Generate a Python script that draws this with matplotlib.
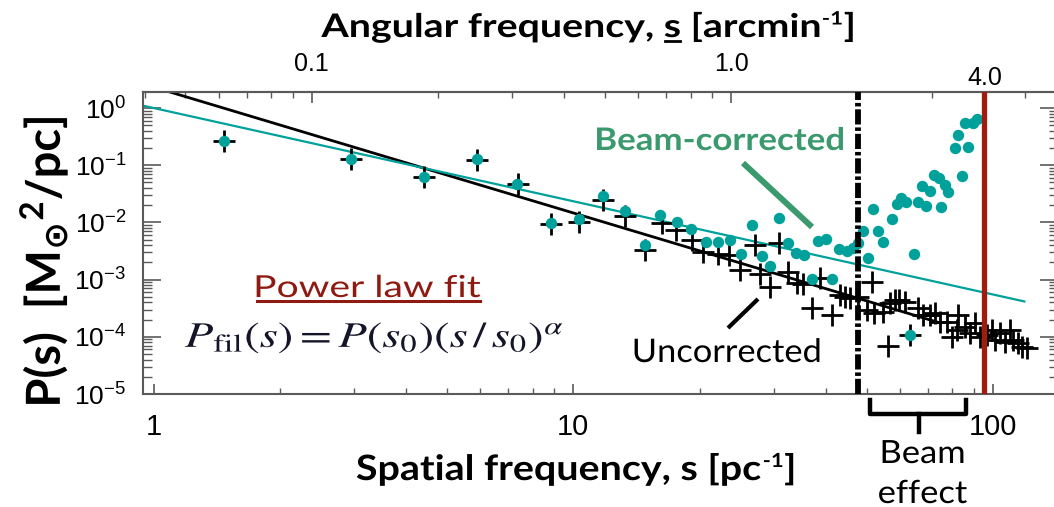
import numpy as np
import matplotlib
matplotlib.use("Agg")
import matplotlib.pyplot as plt
from matplotlib.lines import Line2D
from matplotlib.patches import PathPatch
from matplotlib.textpath import TextPath
from matplotlib.font_manager import FontProperties
from matplotlib.transforms import IdentityTransform, Affine2D
from matplotlib.ticker import (LogLocator, NullFormatter, FixedLocator,
                               FixedFormatter)

plt.rcParams['font.family'] = ['Liberation Sans', 'DejaVu Sans']
plt.rcParams['mathtext.fontset'] = 'custom'
plt.rcParams['mathtext.rm'] = 'Lato'
plt.rcParams['mathtext.bf'] = 'Lato:bold'
plt.rcParams['mathtext.it'] = 'Lato:italic'
plt.rcParams['mathtext.sf'] = 'DejaVu Sans:bold'

# ---------------------------------------------------------------- data
# uncorrected power spectrum (black crosses)
s_uncorr = [1.47, 2.95, 4.41, 5.90, 7.37, 8.84, 10.33, 11.79, 13.27, 14.81,
            16.23, 17.56, 19.14, 20.4, 22.14, 23.52, 24.95, 27.1, 27.85, 29.5,
            30.96, 32.5, 34.06, 35.3, 36.98, 38.7, 41.3, 43.2, 44.4, 45.6,
            47.75, 50.0, 51.5, 52.2, 54.8, 56.3, 56.8, 58.4, 59.8, 61.7,
            63.4, 66.4, 68.2, 70.8, 72.8, 74.8, 77.6, 79.7, 81.9, 82.7,
            85.8, 88.1, 90.6, 93.1, 96.6, 99.3, 101.1, 103.9, 106.8, 109.8,
            111.8, 114.9, 117.1, 120.3]
p_uncorr = [0.265, 0.128, 0.0614, 0.123, 0.0464, 0.00927, 0.0103, 0.0246,
            0.0131, 0.00329, 0.00988, 0.00737, 0.00492, 0.00308, 0.0028,
            0.00269, 0.00147, 0.00403, 0.00124, 0.000752, 0.00431, 0.00137,
            0.000861, 0.000838, 0.000315, 0.00105, 0.00024, 0.000538,
            0.000491, 0.000471, 0.000502, 0.000294, 0.000919, 0.000258,
            0.000275, 6.9e-5, 0.000385, 0.00044, 0.00044, 0.000411,
            0.000107, 0.000315, 0.00024, 0.00024, 0.000258, 0.000184,
            0.000184, 0.0001, 0.000131, 0.00024, 0.00015, 0.000115,
            0.000172, 0.0001, 0.000107, 0.000131, 8.8e-5, 0.000115, 8.2e-5,
            0.000131, 8.8e-5, 7.7e-5, 6.7e-5, 6.3e-5]

# beam-corrected power spectrum (teal dots)
s_corr = [1.47, 2.95, 4.41, 5.90, 7.35, 8.84, 10.33, 11.79, 13.27, 14.81,
          16.1, 17.7, 19.1, 20.7, 22.1, 23.6, 25.1, 26.6, 28.1, 29.5, 30.96,
          32.5, 33.9, 35.4, 37.0, 38.3, 39.9, 41.3, 43.0, 44.8, 46.5, 47.7,
          48.9, 50.3, 51.7, 53.1, 54.6, 57.5, 59.0, 60.4, 62.0, 63.4, 64.8,
          66.4, 67.9, 69.2, 70.8, 72.4, 74.3, 75.2, 76.8, 78.3, 81.2, 82.7,
          84.2, 85.8, 87.1, 89.4, 91.4]
p_corr = [0.265, 0.128, 0.0614, 0.128, 0.047, 0.0099, 0.0113, 0.0293, 0.016,
          0.00403, 0.0135, 0.0103, 0.00767, 0.0046, 0.00449, 0.00492, 0.0028,
          0.009, 0.00259, 0.00173, 0.0121, 0.0043, 0.00288, 0.00269, 0.00103,
          0.00478, 0.00513, 0.00103, 0.00343, 0.0032, 0.00352, 0.00442,
          0.00716, 0.00236, 0.0169, 0.00716, 0.00454, 0.0113, 0.021, 0.0264,
          0.023, 0.000107, 0.0028, 0.0224, 0.0438, 0.0196, 0.0358, 0.0675,
          0.059, 0.0188, 0.045, 0.0336, 0.202, 0.337, 0.0648, 0.54, 0.211,
          0.54, 0.642]

# power-law fits  P(s) = amp * s**index
fit_uncorr = dict(amp=2.32, index=-2.20, s_range=(0.9, 75.0))
fit_corr = dict(amp=1.0, index=-1.63, s_range=(0.9, 118.8))

beam_limit = 47.7          # pc^-1, dashed line
resolution_limit = 95.2    # pc^-1, red line (4.0 arcmin^-1)
pc_per_arcmin = 23.8       # conversion between the two frequency axes

x_ticks = [1, 10, 100]
x_tick_labels = ['1', '10', '100']
top_ticks = [0.1, 1.0]
top_tick_labels = ['0.1', '1.0']

# ---------------------------------------------------------------- style
TEAL = '#00a19a'
GREEN = '#3b9a6d'
DARKRED = '#8e1a12'
RED_LINE = '#a01c0f'
SPINE = '#5a5a5a'

W, H = 1054, 507
fig = plt.figure(figsize=(W / 100, H / 100), dpi=100)
ident = IdentityTransform()


def text_px(x, y, s, **kw):
    return fig.text(x, H - y, s, transform=ident, **kw)


def line_px(xs, ys, **kw):
    fig.add_artist(Line2D(xs, [H - v for v in ys], transform=ident, **kw))


def path_text(x, y, s, size, sx=1.0, ha='center', rotation=0,
              color='black', family='Lato', weight='normal',
              math_family=None, zorder=6):
    """Text drawn as an outline, anchored on its baseline at pixel (x, y),
    with an optional horizontal stretch sx in the page frame."""
    fp = FontProperties(family=family, weight=weight, size=size)
    if math_family:
        fp.set_math_fontfamily(math_family)
    tp = TextPath((0, 0), s, prop=fp)
    ext = tp.get_extents()
    dx = {'center': -(ext.x0 + ext.x1) / 2, 'left': -ext.x0,
          'right': -ext.x1}[ha]
    tr = (Affine2D().translate(dx, 0).rotate_deg(rotation).scale(sx, 1)
          .translate(x, H - y))
    fig.add_artist(PathPatch(tp, transform=tr, facecolor=color,
                             edgecolor='none', lw=0, zorder=zorder))
    return fp, tr, dx


def path_run(x, y, pieces, sx=1.0, color='black', family='Lato',
             weight='bold'):
    """Centred run of outline pieces (text, size, rise, gap) on one baseline."""
    items, cursor = [], 0.0
    for txt, size, rise, gap in pieces:
        fp = FontProperties(family=family, weight=weight, size=size)
        tp = TextPath((0, 0), txt, prop=fp)
        ext = tp.get_extents()
        off = cursor + gap - ext.x0
        items.append((tp, fp, off, rise))
        cursor = off + ext.x1
    shift = -cursor / 2
    placed = []
    for tp, fp, off, rise in items:
        tr = (Affine2D().translate(off + shift, rise).scale(sx, 1)
              .translate(x, H - y))
        fig.add_artist(PathPatch(tp, transform=tr, facecolor=color,
                                 edgecolor='none', lw=0, zorder=6))
        placed.append((fp, off + shift))
    return placed


left, right, top_y, bottom_y = 143, 1058, 91.7, 394
ax = fig.add_axes([left / W, 1 - bottom_y / H, (right - left) / W,
                   (bottom_y - top_y) / H])
ax.set_xscale('log')
ax.set_yscale('log')
ax.set_xlim(0.943, 142.9)
ax.set_ylim(1.0e-5, 1.93)

for sp in ax.spines.values():
    sp.set_color(SPINE)
    sp.set_linewidth(1.5)

# fits
for fit, col, lw in ((fit_uncorr, 'black', 2.0), (fit_corr, TEAL, 1.6)):
    sf = np.array(fit['s_range'])
    ax.plot(sf, fit['amp'] * sf ** fit['index'], color=col, lw=lw, zorder=2)

# data
ax.plot(s_uncorr, p_uncorr, ls='none', marker='+', ms=16.5, mew=2.0,
        color='black', zorder=3)
ax.plot(s_corr, p_corr, ls='none', marker='o', ms=8.2, mfc=TEAL, mec='none',
        zorder=4)

# limits
ax.axvline(beam_limit, color='black', lw=4.2,
           dashes=(2.6, 0.5, 0.6, 0.5), zorder=5)
ax.axvline(resolution_limit, color=RED_LINE, lw=3.8, zorder=5)

# ticks: bottom / left / right
ax.xaxis.set_major_locator(FixedLocator(x_ticks))
ax.xaxis.set_major_formatter(FixedFormatter(x_tick_labels))
ax.xaxis.set_minor_locator(LogLocator(base=10, subs=np.arange(2, 10),
                                      numticks=20))
ax.xaxis.set_minor_formatter(NullFormatter())
ax.yaxis.set_major_locator(LogLocator(base=10, numticks=20))
ax.yaxis.set_minor_locator(LogLocator(base=10, subs=np.arange(2, 10),
                                      numticks=60))
ax.yaxis.set_minor_formatter(NullFormatter())

ax.tick_params(axis='x', which='major', direction='in', length=7, width=1.2,
               color=SPINE, labelsize=21, pad=14, top=False)
ax.tick_params(axis='x', which='minor', direction='in', length=4, width=1.0,
               color=SPINE, top=False)
ax.tick_params(axis='y', which='major', direction='in', length=13, width=1.2,
               color=SPINE, labelsize=19, pad=12, left=True, right=True)
ax.tick_params(axis='y', which='minor', direction='in', length=6.5, width=1.0,
               color=SPINE, left=True, right=True)

# top axis in angular frequency
sec = ax.secondary_xaxis('top', functions=(lambda s: s / pc_per_arcmin,
                                           lambda a: a * pc_per_arcmin))
sec.set_xticks(top_ticks)
sec.set_xticklabels(top_tick_labels)
sec.xaxis.set_minor_locator(LogLocator(base=10, subs=np.arange(2, 10),
                                       numticks=20))
sec.xaxis.set_minor_formatter(NullFormatter())
sec.tick_params(axis='x', which='major', direction='in', length=8, width=1.2,
                color=SPINE, labelsize=18, pad=11)
sec.tick_params(axis='x', which='minor', direction='in', length=4, width=1.0,
                color=SPINE)
sec.spines['top'].set_color(SPINE)
sec.spines['top'].set_linewidth(1.5)
text_px(985, 78, '4.0', ha='center', va='center', fontsize=18)

# ---------------------------------------------------------------- labels
# top axis title, with the frequency symbol underlined
title_sx = 1.21
placed = path_run(587, 37, [('Angular frequency, s [arcmin', 32.5, 0, 0),
                            ('-1', 18.5, 12.5, 3),
                            (']', 32.5, 0, 2.5)], sx=title_sx)
fp0, off0 = placed[0]
pre = TextPath((0, 0), 'Angular frequency, s', prop=fp0).get_extents()
ess = TextPath((0, 0), 's', prop=fp0).get_extents()
ux0 = 587 + title_sx * (off0 + pre.x1 - (ess.x1 - ess.x0))
ux1 = 587 + title_sx * (off0 + pre.x1)
line_px([ux0, ux1], [40.5, 40.5], color='black', lw=2.0)

path_run(575, 480, [('Spatial frequency, s [pc', 34.9, 0, 0),
                    ('-1', 19.5, 13, 3),
                    (']', 34.9, 0, 2.5)], sx=1.13)

path_text(60, 261, r'P(s)  [M$_{\mathsf{⊙}}$$^{\mathbf{2}}$/pc]',
          size=47, rotation=90, weight='bold')

# annotations
path_text(720, 150, 'Beam-corrected', size=31.1, sx=1.12, weight='bold',
          color=GREEN)
line_px([743, 812], [163, 227], color=GREEN, lw=4.3, solid_capstyle='butt')

path_text(727, 362, 'Uncorrected', size=32.5, sx=1.06)
line_px([728, 758], [328, 299], color='black', lw=3.0, solid_capstyle='butt')

fp, tr, dx = path_text(368.5, 297, 'Power law fit', size=30.3, sx=1.29,
                       color=DARKRED)
pl = TextPath((0, 0), 'Power law fit', prop=fp).get_extents()
u0 = tr.transform([(pl.x0, -3.5)])[0]
u1 = tr.transform([(pl.x1, -3.5)])[0]
fig.add_artist(Line2D([u0[0], u1[0]], [u0[1], u1[1]], transform=ident,
                      color=DARKRED, lw=2.2))

path_text(373.5, 347, r'$P_{\rm fil}(s) = P(s_0)(s\,/\,s_0)^{\alpha}$',
          size=36, sx=1.29, color='#15152a', math_family='stix')

# beam-effect brace
line_px([870, 870, 966, 966], [400, 414, 414, 400], color='black', lw=3.2,
        solid_joinstyle='round')
line_px([919, 919], [414, 432], color='black', lw=3.2)
path_text(923, 463, 'Beam', size=32, sx=1.08)
path_text(923, 503, 'effect', size=32, sx=1.08)

fig.savefig('out.png', dpi=100)
